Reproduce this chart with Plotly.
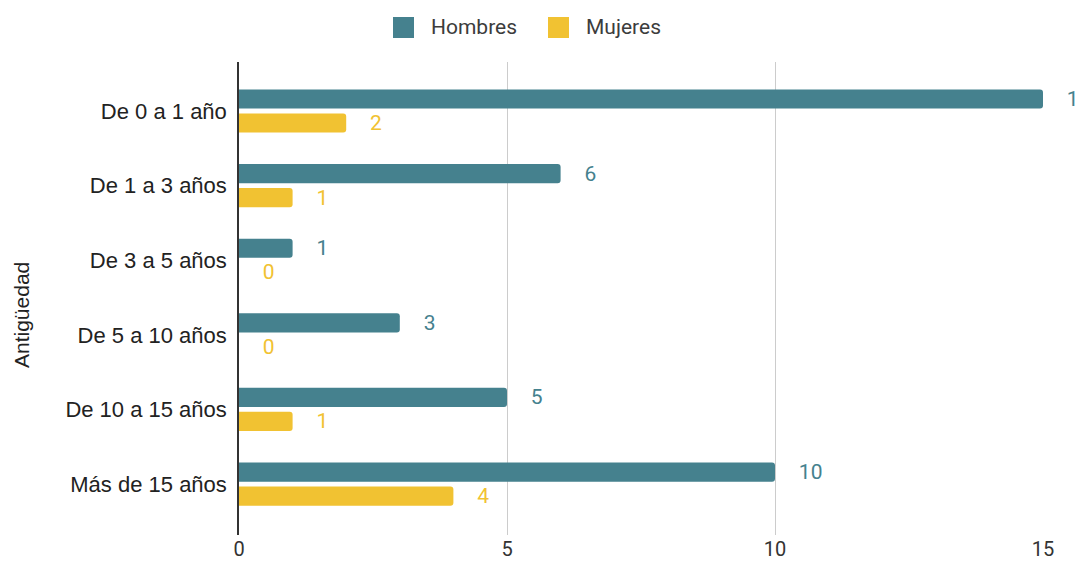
import plotly.graph_objects as go

# Antigüedad en la empresa, por sexo
categorias = ["De 0 a 1 año", "De 1 a 3 años", "De 3 a 5 años",
              "De 5 a 10 años", "De 10 a 15 años", "Más de 15 años"]
hombres = [15, 6, 1, 3, 5, 10]
mujeres = [2, 1, 0, 0, 1, 4]
ticks_x = [0, 5, 10, 15]

COLOR_H = "#45818e"
COLOR_M = "#f1c232"
ROBOTO = "Roboto, Arial, sans-serif"
ARIAL = "Liberation Sans, Arial, sans-serif"
PAD = "\u00a0" * 4

W, H = 1076, 565
ML, MR, MT, MB = 239, 33, 62, 30
PW, PH = W - ML - MR, H - MT - MB


def px_x(px):
    """Coordenada horizontal en píxeles -> fracción del área de trazado."""
    return (px - ML) / PW


def px_y(py):
    """Coordenada vertical en píxeles -> fracción del área de trazado."""
    return 1 - (py - MT) / PH


fig = go.Figure()
series = [("Hombres", hombres, COLOR_H), ("Mujeres", mujeres, COLOR_M)]
for nombre, valores, color in series:
    fig.add_trace(go.Bar(
        y=categorias, x=valores, name=nombre, orientation="h",
        marker=dict(color=color, line=dict(width=0)),
        texttemplate=PAD + "%{x}", textposition="outside",
        constraintext="none", cliponaxis=False,
        textfont=dict(color=color, size=21, family=ROBOTO),
        showlegend=False,
    ))

# Leyenda superior: cuadrado de color + nombre de la serie
shapes, annotations = [], []
leyenda_x = [393, 548]
for (nombre, _, color), x0 in zip(series, leyenda_x):
    shapes.append(dict(type="rect", xref="paper", yref="paper",
                       x0=px_x(x0), x1=px_x(x0 + 21),
                       y0=px_y(38), y1=px_y(17),
                       fillcolor=color, line=dict(width=0)))
    annotations.append(dict(text=nombre, xref="paper", yref="paper",
                            x=px_x(x0 + 36), y=px_y(27.5),
                            xanchor="left", yanchor="middle", showarrow=False,
                            font=dict(family=ROBOTO, size=21, color="#3c3c3c")))

# Título del eje de categorías
annotations.append(dict(text="Antigüedad", textangle=-90,
                        xref="paper", yref="paper",
                        x=px_x(21), y=px_y(315),
                        xanchor="center", yanchor="middle", showarrow=False,
                        font=dict(family=ARIAL, size=21, color="#222222")))

fig.update_layout(
    width=W, height=H,
    margin=dict(l=ML, r=MR, t=MT, b=MB, autoexpand=False),
    paper_bgcolor="white", plot_bgcolor="white",
    barmode="group", bargap=0.357, bargroupgap=0.2, barcornerradius=3,
    font=dict(family=ARIAL, size=22, color="#222222"),
    showlegend=False,
    shapes=shapes, annotations=annotations,
    xaxis=dict(range=[0, 15], tickvals=ticks_x, showgrid=True,
               gridcolor="#cccccc", gridwidth=1, zeroline=False,
               ticks="", automargin=False,
               tickfont=dict(family=ROBOTO, size=20, color="#333333")),
    yaxis=dict(categoryorder="array", categoryarray=categorias,
               autorange=False, range=[5.683, -0.657], automargin=False,
               showline=True, linecolor="#333333", linewidth=1.5,
               showgrid=False, ticks="outside", ticklen=6,
               tickcolor="rgba(0,0,0,0)",
               tickfont=dict(family=ARIAL, size=22, color="#222222")),
)

fig.write_html("out.html")
